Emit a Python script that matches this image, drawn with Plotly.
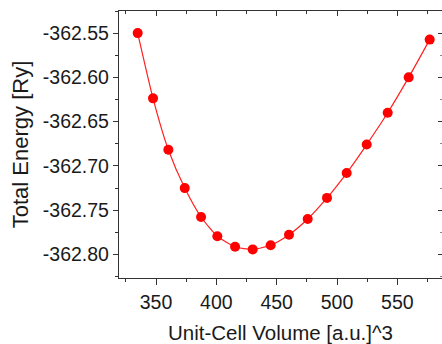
import plotly.graph_objects as go

volume = [334.8, 347.5, 360.2, 373.8, 387.3, 400.8, 415.5, 430.1, 445.0,
          460.2, 475.7, 491.7, 508.0, 524.6, 542.0, 559.4, 576.8]
energy = [-362.550, -362.6237, -362.6818, -362.7251, -362.7578, -362.7796,
          -362.7914, -362.7944, -362.7896, -362.7778, -362.7600, -362.7362,
          -362.7081, -362.6759, -362.6400, -362.6000, -362.5573]

x_ticks = [350, 400, 450, 500, 550]
y_ticks = [-362.55, -362.60, -362.65, -362.70, -362.75, -362.80]
y_labels = ["-362.55", "-362.60", "-362.65", "-362.70", "-362.75", "-362.80"]

x_title = "Unit-Cell Volume [a.u.]^3"
y_title = "Total Energy [Ry]"

xr = [319.3, 587.0]
yr = [-362.8267, -362.525]

FONT = "Liberation Sans, Arial, sans-serif"
AX = "#333333"
TXT = "#1a1a1a"

fig = go.Figure()
fig.add_trace(go.Scatter(
    x=volume, y=energy, mode="lines+markers",
    line=dict(color="#ff2020", width=1.2, shape="spline", smoothing=0.6),
    marker=dict(color="#ff0000", size=10, symbol="circle"),
    showlegend=False, hoverinfo="skip"))
fig.add_trace(go.Scatter(
    x=volume, y=energy, xaxis="x2", yaxis="y2", mode="markers",
    marker=dict(opacity=0), showlegend=False, hoverinfo="skip"))

common = dict(showgrid=False, zeroline=False, linecolor=AX,
              linewidth=1.3, tickcolor=AX, tickwidth=1.2)

fig.update_layout(
    width=442, height=344,
    margin=dict(l=119, r=0, t=11, b=61, pad=0),
    paper_bgcolor="white", plot_bgcolor="white",
    font=dict(family=FONT, color=TXT, size=19),
    xaxis=dict(range=xr, tickvals=x_ticks, ticktext=[str(v) for v in x_ticks],
               ticks="outside", ticklen=6, showline=True,
               minor=dict(dtick=25, tick0=325, ticks="outside", ticklen=3,
                          tickcolor=AX, tickwidth=1.2),
               tickfont=dict(size=19.5, color=TXT),
               title=dict(text=x_title, font=dict(size=20.5, color=TXT), standoff=17),
               **common),
    yaxis=dict(range=yr, tickvals=y_ticks, ticktext=y_labels,
               ticks="outside", ticklen=5, showline=True,
               minor=dict(dtick=0.025, tick0=-362.825, ticks="outside", ticklen=3,
                          tickcolor=AX, tickwidth=1.2),
               tickfont=dict(size=19.5, color=TXT),
               title=dict(text=y_title, font=dict(size=22, color=TXT), standoff=8),
               **common),
    xaxis2=dict(range=xr, overlaying="x", side="top", anchor="y", showline=True,
                tickvals=x_ticks, showticklabels=False, ticks="inside", ticklen=5,
                minor=dict(dtick=25, tick0=325, ticks="inside", ticklen=3,
                           tickcolor=AX, tickwidth=1.2),
                **common),
    yaxis2=dict(range=yr, overlaying="y", side="right", anchor="x", showline=False,
                tickvals=y_ticks, showticklabels=False, ticks="inside", ticklen=4,
                minor=dict(dtick=0.025, tick0=-362.825, ticks="inside", ticklen=2,
                           tickcolor="#888888", tickwidth=1.2),
                **common),
)

fig.write_html("out.html")
